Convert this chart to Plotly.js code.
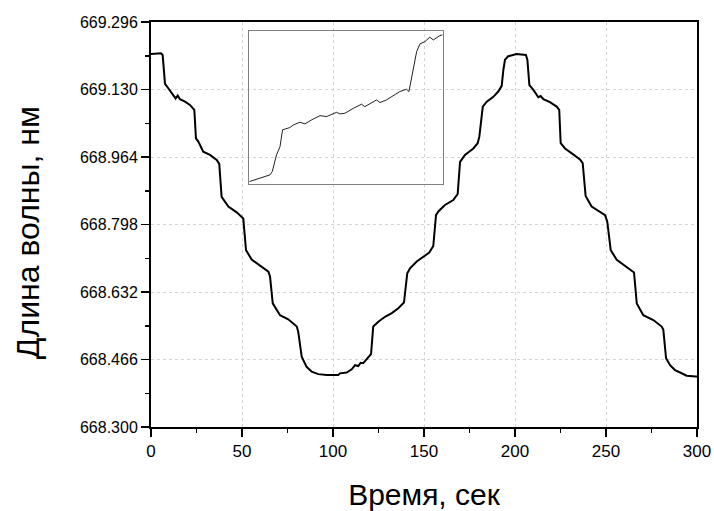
<!DOCTYPE html>
<html>
<head>
<meta charset="utf-8">
<script src="https://cdn.plot.ly/plotly-3.0.1.min.js"></script>
<style>html,body{margin:0;padding:0;background:#fff;}#chart{width:714px;height:511px;}</style>
</head>
<body>
<div id="chart"></div>
<script>
// Main series: time (s) and wavelength (nm)
const timeSec = [0, 5.5, 6.4, 7.7, 9.5, 12.3, 13.5, 14.7, 15.9, 18.7, 21.4, 23.8, 24.7, 26.0, 28.7, 32.4, 36.1, 37.5,
  38.8, 42.5, 47.1, 50.7, 52.2, 55.3, 59.9, 64.5, 65.4, 66.9, 70.9, 75.4, 80.1, 80.9, 82.8, 85.5, 88.3, 91.9, 96.5,
  102.9, 103.8, 107.5, 110.3, 112.1, 113.9, 115.2, 116.6, 118.5, 120.9, 122.1, 124.9, 128.6, 132.3, 135.9, 139.0,
  140.8, 142.3, 146.0, 150.5, 152.9, 155.1, 156.6, 157.9, 161.5, 166.1, 168.5, 169.8, 172.5, 177.1, 179.5, 180.4,
  182.3, 184.5, 188.1, 190.8, 192.7, 193.6, 194.5, 196.3, 200.9, 206.0, 206.8, 207.9, 210.1, 212.8, 214.1, 215.6,
  219.2, 222.9, 224.3, 225.1, 227.5, 231.2, 235.7, 237.2, 238.8, 242.1, 245.8, 249.5, 250.7, 252.6, 255.9, 261.4,
  265.4, 266.9, 270.5, 276.0, 280.6, 281.5, 283.0, 285.2, 287.9, 290.7, 294.3, 299.3, 300];
const wavelengthNm = [669.217, 669.219, 669.215, 669.144, 669.133, 669.114, 669.108, 669.115, 669.106, 669.100, 669.092,
  669.080, 669.010, 669.002, 668.977, 668.969, 668.957, 668.947, 668.866, 668.842, 668.828, 668.813, 668.735, 668.712,
  668.698, 668.682, 668.670, 668.604, 668.575, 668.565, 668.547, 668.534, 668.473, 668.448, 668.436, 668.430, 668.428,
  668.428, 668.432, 668.434, 668.442, 668.452, 668.450, 668.458, 668.457, 668.466, 668.479, 668.547, 668.559, 668.571,
  668.580, 668.592, 668.606, 668.678, 668.690, 668.707, 668.721, 668.729, 668.745, 668.821, 668.830, 668.846, 668.858,
  668.873, 668.952, 668.969, 668.985, 668.998, 669.014, 669.088, 669.100, 669.112, 669.125, 669.139, 669.178, 669.203,
  669.212, 669.217, 669.215, 669.203, 669.141, 669.129, 669.111, 669.114, 669.106, 669.099, 669.088, 669.080, 668.998,
  668.985, 668.973, 668.958, 668.949, 668.868, 668.842, 668.832, 668.821, 668.805, 668.735, 668.711, 668.693, 668.680,
  668.604, 668.575, 668.563, 668.547, 668.539, 668.469, 668.452, 668.440, 668.434, 668.426, 668.424, 668.424];

// Inset series (relative units)
const insetX = [0, 5.5, 10.7, 11.9, 14.1, 15.9, 17.2, 21.0, 22.8, 26.2, 28.8, 32.2, 36.6, 40.0, 45.2, 46.9, 49.5, 53.8,
  58.1, 59.8, 65.9, 67.6, 71.0, 77.9, 81.4, 82.6, 84.8, 86.6, 88.3, 90.9, 93.4, 95.2, 98.6, 100];
const insetY = [1.3, 3.5, 5.7, 7.9, 18.8, 24.2, 35.2, 36.7, 38.4, 40.2, 39.1, 41.7, 44.5, 43.9, 46.7, 45.6, 46.1, 49.3,
  52.0, 50.4, 54.8, 53.1, 54.8, 60.3, 61.8, 60.3, 74.5, 86.5, 91.5, 93.0, 95.9, 94.1, 96.9, 97.4];

// Tick labels
const xTickVals = [0, 50, 100, 150, 200, 250, 300];
const xTickText = ['0', '50', '100', '150', '200', '250', '300'];
const yTickVals = [668.300, 668.466, 668.632, 668.798, 668.964, 669.130, 669.296];
const yTickText = ['668.300', '668.466', '668.632', '668.798', '668.964', '669.130', '669.296'];

const FONT = 'Arial, "Liberation Sans", sans-serif';

const traces = [
  {x: timeSec, y: wavelengthNm, type: 'scatter', mode: 'lines', line: {color: '#000', width: 2}, xaxis: 'x', yaxis: 'y', hoverinfo: 'skip'},
  {x: insetX, y: insetY, type: 'scatter', mode: 'lines', line: {color: '#222', width: 1}, xaxis: 'x2', yaxis: 'y2', hoverinfo: 'skip'}
];

const layout = {
  width: 714, height: 511,
  margin: {l: 151, r: 17, t: 22, b: 84},
  paper_bgcolor: '#fff', plot_bgcolor: 'rgba(0,0,0,0)',
  showlegend: false,
  font: {family: FONT, color: '#000'},
  xaxis: {
    domain: [0, 1], range: [0, 300],
    tickvals: xTickVals, ticktext: xTickText,
    ticks: 'outside', ticklen: 8, tickwidth: 1.5, tickcolor: '#000',
    tickfont: {size: 17, family: FONT, color: '#000'},
    showline: true, linecolor: '#000', linewidth: 2, mirror: true,
    showgrid: true, gridcolor: '#d4d4d4', griddash: 'dot', gridwidth: 1,
    zeroline: false,
    minor: {dtick: 25, tick0: 0, ticks: 'outside', ticklen: 4, tickwidth: 1.5, tickcolor: '#000', showgrid: false},
    title: {text: 'Время, сек', font: {size: 30, family: FONT, color: '#000'}, standoff: 30}
  },
  yaxis: {
    domain: [0, 1], range: [668.300, 669.296],
    tickvals: yTickVals, ticktext: yTickText,
    ticks: 'outside', ticklen: 8, tickwidth: 1.5, tickcolor: '#000',
    tickfont: {size: 16, family: FONT, color: '#000'},
    showline: true, linecolor: '#000', linewidth: 2, mirror: true,
    showgrid: true, gridcolor: '#d4d4d4', griddash: 'dot', gridwidth: 1,
    zeroline: false,
    minor: {dtick: 0.083, tick0: 668.300, ticks: 'outside', ticklen: 4, tickwidth: 1.5, tickcolor: '#000', showgrid: false}
  },
  xaxis2: {
    domain: [0.180, 0.534], range: [0, 100], anchor: 'y2',
    showline: true, linecolor: '#808080', linewidth: 1, mirror: true,
    showgrid: false, zeroline: false, showticklabels: false, ticks: ''
  },
  yaxis2: {
    domain: [0.601, 0.978], range: [0, 100], anchor: 'x2',
    showline: true, linecolor: '#808080', linewidth: 1, mirror: true,
    showgrid: false, zeroline: false, showticklabels: false, ticks: ''
  },
  annotations: [{
    text: 'Длина волны, нм', textangle: -90, showarrow: false,
    xref: 'paper', yref: 'paper', x: -0.2253, y: 0.481, xanchor: 'center', yanchor: 'middle',
    font: {size: 32, family: FONT, color: '#000'}
  }]
};

Plotly.newPlot('chart', traces, layout, {displayModeBar: false, staticPlot: true});
</script>
</body>
</html>
